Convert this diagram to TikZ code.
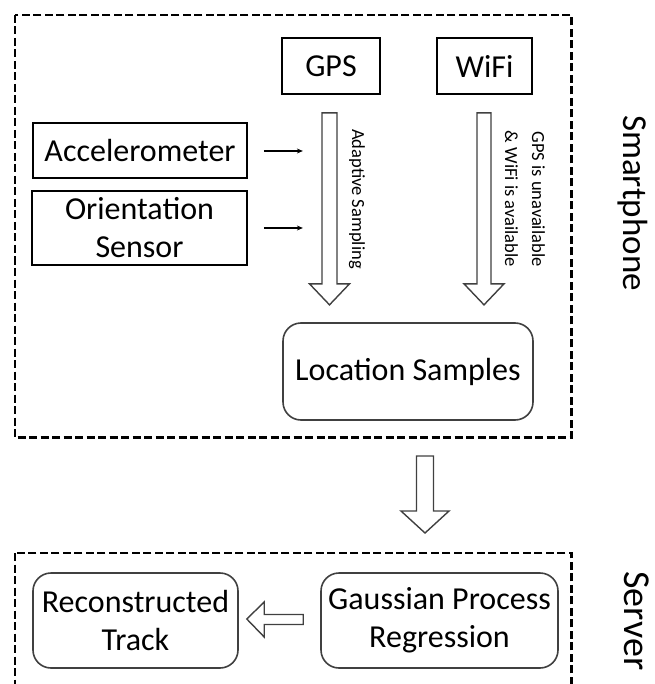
\documentclass[tikz,border=0pt]{standalone}
\usepackage{fontspec}
\setmainfont{Carlito}
\usetikzlibrary{calc,arrows.meta}
\newcommand\dgbig{\fontsize{32}{38}\selectfont}
\newcommand\dgsmall{\fontsize{18.5}{27}\selectfont}
\newcommand\dgside{\fontsize{35}{40}\selectfont}
\newcommand\dgserv{\fontsize{38}{40}\selectfont}
\begin{document}
\begin{tikzpicture}[x=1pt,y=-1pt,
  sqbox/.style={draw=black,line width=1.7pt,inner sep=0pt,align=center,font=\dgbig},
  rbox/.style={draw=black!75,line width=1.6pt,rounded corners=18pt,inner sep=0pt,align=center,font=\dgbig},
  zone/.style={draw=black,line width=2.2pt,dash pattern=on 8pt off 3.5pt},
  hollow/.style={draw=black!75,line width=1.4pt,fill=white,line join=miter},
  lab/.style={font=\dgsmall,align=center,rotate=-90,inner sep=0pt},
  side/.style={font=\dgside,rotate=-90,inner sep=0pt},
  small/.style={-{Stealth[length=6pt,width=5pt]},line width=1.2pt},
  pics/hdown/.style n args={4}{code={
    \draw[hollow] (-#1,0) -- (#1,0) -- (#1,#3) -- (#2,#3) -- (0,#4) -- (-#2,#3) -- (-#1,#3) -- cycle;}}]
\clip (0,0) rectangle (654,684);
% zones
\draw[zone] (14.6,15) rectangle (571.5,437.5);
\draw[zone] (14.6,553) rectangle (571.5,720);
\node[side] (sp) at (633,203) {Smartphone};
\node[side,font=\dgserv] (sv) at (637,621) {Server};
% boxes
\node[sqbox,minimum width=98,minimum height=56] (gps) at (331,66) {GPS};
\node[sqbox,minimum width=95,minimum height=56] (wifi) at (484.5,66) {WiFi};
\node[sqbox,minimum width=214,minimum height=55] (acc) at (140,150.5) {Accelerometer};
\node[sqbox,minimum width=215,minimum height=74] (ori) at (139.5,228) {Orientation\\Sensor};
\node[rbox,minimum width=250,minimum height=97] (loc) at (408,371.5) {Location Samples};
\node[rbox,minimum width=205,minimum height=95] (rec) at (135.5,620.5) {Reconstructed\\Track};
\node[rbox,minimum width=237,minimum height=95] (gpr) at (439.5,620.5) {Gaussian Process\\Regression};
% hollow arrows
\pic at ($(gps.south)+(-1.5,18)$) {hdown={7.5}{20}{171}{192}};
\pic at ($(wifi.south)+(-0.5,18)$) {hdown={7}{20}{171}{192}};
\coordinate (mid) at (425,456);
\pic at (mid) {hdown={8.5}{24}{55}{77}};
\draw[hollow] ($(gpr.west)+(-17,-6)$) -- ++(-39,0) -- ++(0,-12.5) -- ($(rec.east)+(8,-1.5)$) -- ($(gpr.west)+(-56,16.5)$) -- ++(0,-12.5) -- ++(39,0) -- cycle;
% small arrows
\draw[small] ($(acc.east)+(16,0.5)$) -- ++(39,0);
\draw[small] ($(ori.east)+(16,0)$) -- ++(39,0);
% labels
\node[lab] (ad) at (357,199) {Adaptive Sampling};
\node[lab] (gw) at (525,199) {GPS is unavailable\\\& WiFi is available};
\end{tikzpicture}
\end{document}
